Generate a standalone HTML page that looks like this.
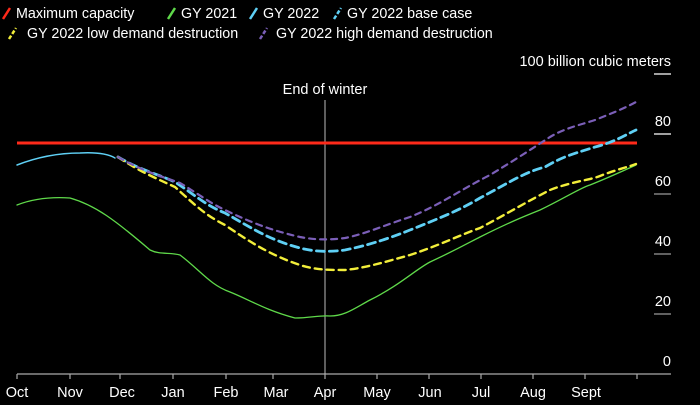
<!DOCTYPE html>
<html><head><style>
body{margin:0;background:#000;width:700px;height:400px;overflow:hidden;font-family:"Liberation Sans",sans-serif}
</style></head><body>
<svg width="700" height="400" xmlns="http://www.w3.org/2000/svg" font-family="Liberation Sans, sans-serif" fill="#fff">
<g font-size="14.3">
<line x1="3" y1="19" x2="10" y2="8" stroke="#ff2a1a" stroke-width="2.5"/><text x="16" y="18">Maximum capacity</text>
<line x1="168" y1="19" x2="175" y2="8" stroke="#5fd94a" stroke-width="2.5"/><text x="181" y="18">GY 2021</text>
<line x1="250" y1="19" x2="257" y2="8" stroke="#5fd0f5" stroke-width="2.5"/><text x="263" y="18">GY 2022</text>
<line x1="334" y1="19" x2="341" y2="8" stroke="#5fd0f5" stroke-width="2.5" stroke-dasharray="4 2"/><text x="347" y="18">GY 2022 base case</text>
<line x1="9" y1="39" x2="16" y2="28" stroke="#f2ee3a" stroke-width="2.5" stroke-dasharray="4 2"/><text x="27" y="38">GY 2022 low demand destruction</text>
<line x1="260" y1="39" x2="267" y2="28" stroke="#7b5fb8" stroke-width="2.5" stroke-dasharray="4 2"/><text x="276" y="38">GY 2022 high demand destruction</text>
</g>
<text x="671" y="66" font-size="14.5" text-anchor="end">100 billion cubic meters</text>
<g font-size="14.5" text-anchor="end">
<text x="671" y="126">80</text><text x="671" y="186">60</text><text x="671" y="246">40</text><text x="671" y="306">20</text><text x="671" y="366">0</text>
</g>
<g stroke="#fff" stroke-width="1.2">
<line x1="654" y1="74" x2="671" y2="74"/><line x1="654" y1="134" x2="671" y2="134"/>
<line x1="654" y1="194" x2="671" y2="194" stroke="#999"/><line x1="654" y1="254" x2="671" y2="254" stroke="#999"/>
<line x1="654" y1="314" x2="671" y2="314" stroke="#999"/>
</g>
<line x1="17" y1="374" x2="671" y2="374" stroke="#aaa" stroke-width="1.2"/>
<g stroke="#aaa" stroke-width="1.2">
<line x1="17" y1="374" x2="17" y2="379"/><line x1="70" y1="374" x2="70" y2="379"/><line x1="120" y1="374" x2="120" y2="379"/><line x1="173" y1="374" x2="173" y2="379"/><line x1="226" y1="374" x2="226" y2="379"/><line x1="273" y1="374" x2="273" y2="379"/><line x1="325" y1="374" x2="325" y2="379"/><line x1="377" y1="374" x2="377" y2="379"/><line x1="429" y1="374" x2="429" y2="379"/><line x1="481" y1="374" x2="481" y2="379"/><line x1="533" y1="374" x2="533" y2="379"/><line x1="585" y1="374" x2="585" y2="379"/><line x1="637" y1="374" x2="637" y2="379"/>
</g>
<g font-size="14.5" text-anchor="middle">
<text x="17" y="397">Oct</text><text x="70" y="397">Nov</text><text x="122" y="397">Dec</text><text x="173" y="397">Jan</text><text x="226" y="397">Feb</text><text x="276" y="397">Mar</text><text x="325" y="397">Apr</text><text x="377" y="397">May</text><text x="430" y="397">Jun</text><text x="481" y="397">Jul</text><text x="533" y="397">Aug</text><text x="586" y="397">Sept</text>
</g>
<line x1="325" y1="100" x2="325" y2="374" stroke="#bbb" stroke-width="1"/>
<text x="325" y="94" font-size="14.5" text-anchor="middle">End of winter</text>
<line x1="17" y1="143" x2="637" y2="143" stroke="#ff2a1a" stroke-width="3"/>
<g fill="none" stroke-linecap="round">
<path d="M17,205 C35,198 55,197 70,198 C95,205 115,220 150,250 C160,255 170,252 180,255 C200,270 210,285 230,292 C250,300 265,310 295,318 C310,318 320,315 330,316 C345,316 355,308 370,300 C400,285 415,270 430,262 C460,248 470,242 480,237 C510,222 525,216 540,210 C565,198 580,188 590,185 C610,177 625,170 636,165" stroke="#5fd94a" stroke-width="1.3"/>
<path d="M17,165 C35,158 55,153 80,153 C100,152 110,155 115,158" stroke="#5fd0f5" stroke-width="1.5"/>
<path d="M118,157 C140,170 160,175 175,182 C195,195 205,205 225,213 C255,230 270,240 300,248 C315,252 330,252 345,250 C365,246 385,240 410,230 C440,218 460,210 480,198 C510,182 525,172 545,167 C565,155 580,152 595,147 C615,142 625,135 636,130" stroke="#5fd0f5" stroke-width="2.8" stroke-dasharray="8 5"/>
<path d="M118,157 C140,172 160,180 175,187 C195,205 205,215 225,225 C250,242 270,255 300,265 C315,270 330,270 345,270 C365,268 385,262 410,255 C440,245 460,235 480,228 C510,212 530,200 550,190 C570,182 590,180 600,176 C615,170 628,167 636,164" stroke="#f2ee3a" stroke-width="2.4" stroke-dasharray="7 5"/>
<path d="M118,157 C140,170 160,176 180,183 C200,195 210,203 225,210 C250,222 270,230 300,237 C315,240 330,240 345,238 C365,234 385,225 410,217 C440,205 460,190 490,175 C510,163 530,150 550,137 C565,128 580,125 595,120 C615,112 625,108 636,102" stroke="#7b5fb8" stroke-width="2.2" stroke-dasharray="6 5"/>
</g>
</svg>
</body></html>
